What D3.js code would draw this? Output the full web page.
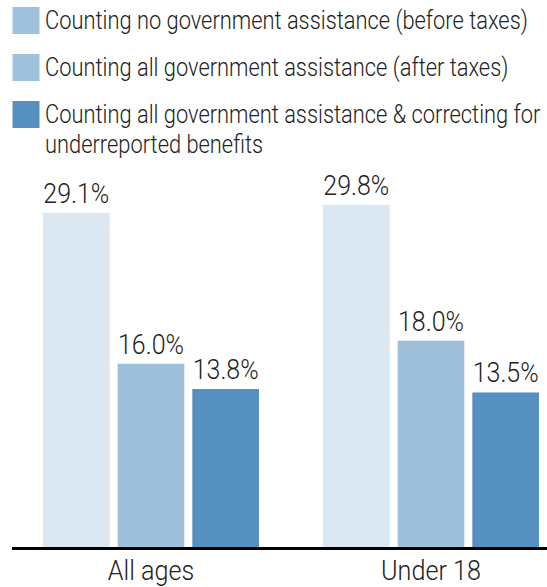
<!DOCTYPE html>
<html>
<head>
<meta charset="utf-8">
<script src="https://cdn.jsdelivr.net/npm/d3@7"></script>
<style>
  html, body { margin: 0; padding: 0; background: #fff; }
  svg { display: block; }
  text { font-family: Roboto, "Noto Sans", sans-serif; font-weight: 300; fill: #222; }
</style>
</head>
<body>
<svg id="chart" width="547" height="587"></svg>
<script>
// ---- data ----
const categories = ["All ages", "Under 18"];
const seriesNames = [
  "Counting no government assistance (before taxes)",
  "Counting all government assistance (after taxes)",
  "Counting all government assistance & correcting for underreported benefits"
];
const legendLines = [
  ["Counting no government assistance (before taxes)"],
  ["Counting all government assistance (after taxes)"],
  ["Counting all government assistance & correcting for", "underreported benefits"]
];
const beforeTaxes = [29.1, 29.8];
const afterTaxes = [16.0, 18.0];
const corrected = [13.8, 13.5];
const valueLabels = [["29.1%", "16.0%", "13.8%"], ["29.8%", "18.0%", "13.5%"]];

const barColors = ["#dbe7f1", "#9fc0db", "#5690c0"];
const legendColors = ["#a0c1dc", "#a0c1dc", "#5690c0"];

const seriesValues = [beforeTaxes, afterTaxes, corrected];

// ---- layout ----
const svg = d3.select("#chart");
const baseline = 548;

const x0 = d3.scaleBand()
  .domain(categories)
  .range([11, 571])
  .paddingInner(64 / 280)
  .paddingOuter(32 / 280);

const x1 = d3.scaleBand()
  .domain(d3.range(seriesNames.length))
  .range([0, x0.bandwidth()])
  .paddingInner(0.107)
  .paddingOuter(0);

const y = d3.scaleLinear().domain([0, 30]).range([baseline, 202.4]);

// horizontal condensing helper (reference font is a condensed face)
function condense(sel, k) {
  sel.each(function() {
    const t = d3.select(this);
    const x = +t.attr("x") || 0, yy = +t.attr("y") || 0;
    t.attr("x", null).attr("y", null)
      .attr("transform", `translate(${x},${yy}) scale(${k},1)`);
  });
}

// ---- legend ----
const legend = svg.append("g");
const legendBaselines = [28.5, 75.5, 122.5];
const legendTexts = [];
legendLines.forEach((lines, i) => {
  legend.append("rect")
    .attr("x", 12.5).attr("y", legendBaselines[i] - 21.5)
    .attr("width", 27).attr("height", 27)
    .attr("fill", legendColors[i]);
  lines.forEach((l, j) => {
    const t = legend.append("text")
      .attr("x", 45).attr("y", legendBaselines[i] + j * 30)
      .style("font-size", "26px")
      .text(l);
    legendTexts.push(t.node());
  });
});
const kLegend = 483 / legendTexts[0].getComputedTextLength();
condense(d3.selectAll(legendTexts), kLegend);

// ---- bars ----
const groups = svg.append("g").selectAll("g")
  .data(categories)
  .join("g")
  .attr("transform", d => `translate(${x0(d)},0)`);

groups.each(function(cat, ci) {
  const g = d3.select(this);
  const data = seriesValues.map((vals, si) => ({ si, v: vals[ci], label: valueLabels[ci][si] }));
  g.selectAll("rect")
    .data(data)
    .join("rect")
    .attr("x", d => x1(d.si))
    .attr("y", d => y(d.v))
    .attr("width", x1.bandwidth())
    .attr("height", d => baseline - y(d.v))
    .attr("fill", d => barColors[d.si]);
  g.selectAll("text.val")
    .data(data)
    .join("text")
    .attr("class", "val")
    .attr("x", d => x1(d.si) + x1.bandwidth() / 2)
    .attr("y", d => y(d.v) - 10)
    .attr("text-anchor", "middle")
    .style("font-size", "28px")
    .text(d => d.label);
});
const valTexts = svg.selectAll("text.val");
const kVal = 66 / valTexts.nodes()[1].getComputedTextLength();
condense(valTexts, kVal);

// ---- axis ----
const xAxis = svg.append("g").attr("transform", `translate(0,${baseline})`)
  .call(d3.axisBottom(x0).tickSize(0).tickPadding(0));
xAxis.select(".domain").remove();
xAxis.append("line")
  .attr("x1", 12).attr("x2", 547).attr("y1", 0.5).attr("y2", 0.5)
  .attr("stroke", "#000").attr("stroke-width", 3);
const tickTexts = xAxis.selectAll(".tick text")
  .attr("x", 0)
  .attr("y", 32)
  .attr("dy", 0)
  .attr("fill", "#222")
  .style("font-size", "28px")
  .style("font-weight", 300)
  .style("font-family", "Roboto, \"Noto Sans\", sans-serif");
const kTick = 100 / tickTexts.nodes()[1].getComputedTextLength();
condense(tickTexts, kTick);
</script>
</body>
</html>
